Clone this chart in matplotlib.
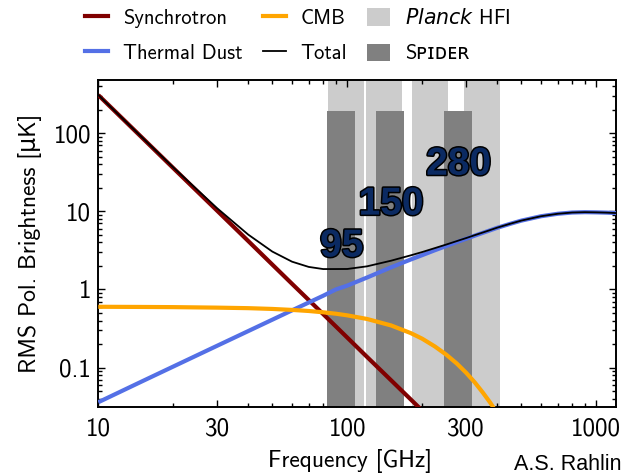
import matplotlib
matplotlib.use("Agg")
import matplotlib.pyplot as plt
import matplotlib.patheffects as pe
from matplotlib.patches import Rectangle, Patch
from matplotlib.lines import Line2D
from matplotlib.ticker import FixedLocator, FixedFormatter, NullFormatter

# Frequency grid [GHz]
freq = [10, 15, 20, 30, 40, 50, 60, 70, 80, 90, 100, 120, 150, 180, 200,
        225, 250, 275, 300, 325, 350, 375, 400, 450, 500, 600, 700, 800,
        900, 1000, 1100, 1200]

# RMS polarized brightness of each component [uK]
synchrotron = [308, 87.5, 35.8, 10.2, 4.17, 2.08, 1.18, 0.733, 0.484, 0.336,
               0.242, 0.137, 0.0687, 0.039, 0.0281, 0.0195, 0.0141, 0.0105,
               0.008, 0.0063, 0.0049, 0.004, 0.0034, 0.0023, 0.0018, 0.001,
               0.0007, 0.0005, 0.0003, 0.0002, 0.0002, 0.0001]
dust = [0.036, 0.0667, 0.103, 0.19, 0.293, 0.41, 0.54, 0.68, 0.83, 1.0,
        1.12, 1.42, 1.92, 2.42, 2.75, 3.18, 3.6, 4.03, 4.45, 4.88, 5.3,
        5.72, 6.15, 6.9, 7.6, 8.65, 9.3, 9.65, 9.75, 9.7, 9.62, 9.5]
cmb = [0.60, 0.597, 0.594, 0.585, 0.576, 0.563, 0.547, 0.53, 0.51, 0.489,
       0.466, 0.419, 0.346, 0.276, 0.234, 0.186, 0.146, 0.113, 0.086,
       0.0647, 0.048, 0.0356, 0.026, 0.0137, 0.007, 0.0017, 0.0004,
       0.0001, 0.00003, 0.00001, 0.000003, 0.000001]
total = [s + d + c for s, d, c in zip(synchrotron, dust, cmb)]

# Instrument bands: centre frequency [GHz] and fractional bandwidth
planck_centers = [100, 143, 217, 353]
planck_bw = 0.33
spider_centers = [95, 150, 280]
spider_bw = 0.26
spider_top = 190

xticks = [10, 30, 100, 300, 1000]
xticklabels = ["10", "30", "100", "300", "1000"]
yticks = [0.1, 1, 10, 100]
yticklabels = ["0.1", "1", "10", "100"]

FONT = ["cmss10", "DejaVu Sans"]
plt.rcParams["font.family"] = FONT
plt.rcParams["axes.unicode_minus"] = False

fig = plt.figure(figsize=(6.34, 4.76), dpi=100)
ax = fig.add_axes([0.155, 0.1443, 0.8166, 0.6877])
ax.set_xscale("log")
ax.set_yscale("log")
ax.set_xlim(10, 1200)
ax.set_ylim(0.031, 480)

light = "#cccccc"
dark = "#808080"
for c in planck_centers:
    lo, hi = c * (1 - planck_bw / 2), c * (1 + planck_bw / 2)
    ax.add_patch(Rectangle((lo, 1e-4), hi - lo, 1e4, facecolor=light,
                           edgecolor="none", zorder=1))
for c in spider_centers:
    lo, hi = c * (1 - spider_bw / 2), c * (1 + spider_bw / 2)
    ax.add_patch(Rectangle((lo, 1e-4), hi - lo, spider_top - 1e-4,
                           facecolor=dark, edgecolor="none", zorder=2))

c_sync = "#800000"
c_dust = "#5470e6"
c_cmb = "#ffa500"
ax.plot(freq, synchrotron, color=c_sync, lw=3.0, zorder=3, solid_capstyle="butt")
ax.plot(freq, dust, color=c_dust, lw=3.0, zorder=3, solid_capstyle="butt")
ax.plot(freq, cmb, color=c_cmb, lw=3.0, zorder=3, solid_capstyle="butt")
ax.plot(freq, total, color="black", lw=1.3, zorder=4)

# Spider band labels
for c, yv in zip(spider_centers, [2.64, 9.08, 29.4]):
    ax.text(c, yv, str(c), ha="center", va="baseline",
            family="Liberation Sans", fontweight="bold", fontsize=28,
            color="#0b2a62", zorder=5,
            path_effects=[pe.withStroke(linewidth=2.2, foreground="black")])

ax.xaxis.set_major_locator(FixedLocator(xticks))
ax.xaxis.set_major_formatter(FixedFormatter(xticklabels))
xminor = [m * 10 ** e for e in (1, 2, 3) for m in (2, 4, 5, 6, 7, 8, 9)]
ax.xaxis.set_minor_locator(FixedLocator(xminor))
ax.xaxis.set_minor_formatter(NullFormatter())
ax.yaxis.set_major_locator(FixedLocator(yticks))
ax.yaxis.set_major_formatter(FixedFormatter(yticklabels))
yminor = [m * 10 ** e for e in (-2, -1, 0, 1, 2) for m in range(2, 10)]
ax.yaxis.set_minor_locator(FixedLocator(yminor))
ax.yaxis.set_minor_formatter(NullFormatter())

ax.tick_params(which="both", direction="in", top=True, right=True,
               labelsize=18, width=1.0)
ax.tick_params(which="major", length=5)
ax.tick_params(which="minor", length=3)
ax.tick_params(axis="x", which="major", pad=7)
ax.tick_params(axis="y", which="major", pad=5)
for sp in ax.spines.values():
    sp.set_linewidth(1.4)

ax.set_xlabel("Frequency [GHz]", fontsize=17)
ax.xaxis.set_label_coords(0.486, -0.127)
ax.set_ylabel("RMS Pol. Brightness [\u03bcK]", fontsize=17)
ax.yaxis.set_label_coords(-0.109, 0.5)

handles = [
    Line2D([], [], color=c_sync, lw=3),
    Line2D([], [], color=c_dust, lw=3),
    Line2D([], [], color=c_cmb, lw=3),
    Line2D([], [], color="black", lw=1.3),
    Patch(facecolor=light, edgecolor="none"),
    Patch(facecolor=dark, edgecolor="none"),
]
labels = ["Synchrotron", "Thermal Dust", "CMB", "Total",
          r"$\mathit{Planck}$ HFI", "Sᴘɪᴅᴇʀ"]
fig.legend(handles, labels, loc="upper left", bbox_to_anchor=(85 / 634, 0.983),
           ncol=3, frameon=False, fontsize=14.8, borderpad=0, borderaxespad=0,
           handlelength=1.12, handleheight=0.95, handletextpad=0.73,
           columnspacing=0.98, labelspacing=0.75)

fig.text(622 / 634, 1 - 470 / 476, "A.S. Rahlin", ha="right", va="baseline",
         family="Liberation Sans", fontsize=15.5)

fig.savefig("out.png", dpi=100)
